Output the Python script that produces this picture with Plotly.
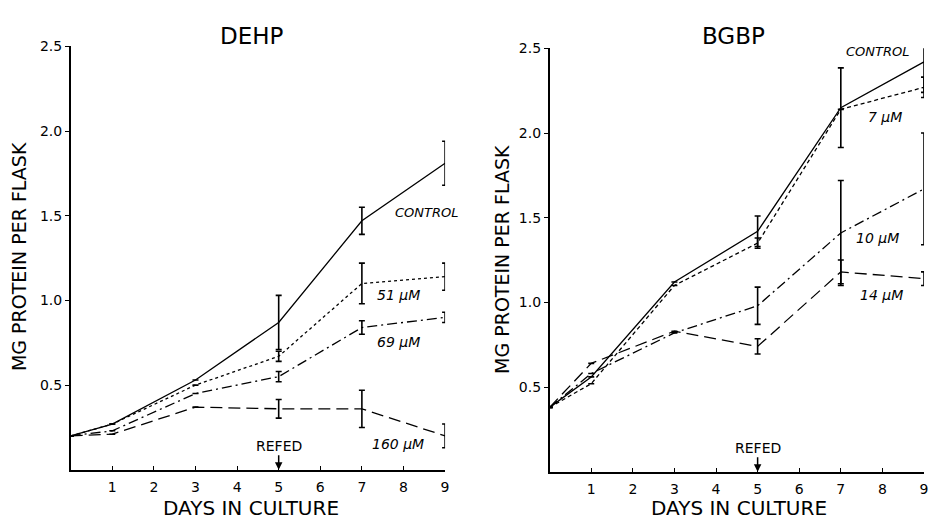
import plotly.graph_objects as go

days = [0, 1, 3, 5, 7, 9]

# DEHP panel
dehp_control = [0.20, 0.27, 0.53, 0.87, 1.47, 1.81]
dehp_control_err = [None, None, None, 0.16, 0.08, 0.13]
dehp_51 = [0.20, 0.27, 0.50, 0.67, 1.10, 1.14]
dehp_51_err = [None, None, None, 0.03, 0.12, 0.08]
dehp_69 = [0.20, 0.23, 0.45, 0.55, 0.84, 0.90]
dehp_69_err = [None, None, None, 0.03, 0.04, 0.03]
dehp_160 = [0.20, 0.21, 0.37, 0.36, 0.36, 0.20]
dehp_160_err = [None, None, None, 0.055, 0.11, 0.07]

# BGBP panel
bgbp_control = [0.38, 0.56, 1.12, 1.42, 2.15, 2.42]
bgbp_control_err = [None, None, None, 0.09, 0.235, 0.18]
bgbp_7 = [0.38, 0.52, 1.10, 1.35, 2.14, 2.27]
bgbp_7_err = [None, None, None, 0.03, None, 0.06]
bgbp_10 = [0.38, 0.58, 0.82, 0.98, 1.41, 1.67]
bgbp_10_err = [None, None, None, 0.11, 0.31, 0.33]
bgbp_14 = [0.38, 0.64, 0.83, 0.74, 1.18, 1.14]
bgbp_14_err = [None, None, None, 0.045, 0.07, 0.04]

y_ticks = [0.5, 1.0, 1.5, 2.0, 2.5]
y_tick_text = ["0.5", "1.0", "1.5", "2.0", "2.5"]
x_ticks = [1, 2, 3, 4, 5, 6, 7, 8, 9]

FONT = "DejaVu Sans, Liberation Sans, sans-serif"
W, H = 931, 519

def px_x(p):
    return p / W

def px_y(p):
    return 1 - p / H

fig = go.Figure()

def add_series(y, err, dash, xa, ya):
    fig.add_trace(go.Scatter(
        x=days, y=y, mode="lines",
        line=dict(color="black", width=1.3, dash=dash),
        error_y=dict(type="data", array=err, visible=True, color="black",
                     thickness=1.6, width=3),
        xaxis=xa, yaxis=ya, showlegend=False, cliponaxis=False,
    ))

add_series(dehp_control, dehp_control_err, "solid", "x", "y")
add_series(dehp_51, dehp_51_err, "3px,3px", "x", "y")
add_series(dehp_69, dehp_69_err, "10px,4px,2px,4px", "x", "y")
add_series(dehp_160, dehp_160_err, "12px,6px", "x", "y")

add_series(bgbp_control, bgbp_control_err, "solid", "x2", "y2")
add_series(bgbp_7, bgbp_7_err, "4px,3px", "x2", "y2")
add_series(bgbp_10, bgbp_10_err, "10px,4px,2px,4px", "x2", "y2")
add_series(bgbp_14, bgbp_14_err, "12px,6px", "x2", "y2")

xaxis_common = dict(range=[0, 9], tickvals=x_ticks, showline=True, linecolor="black",
                    linewidth=1.5, ticks="inside", ticklen=4, tickcolor="black",
                    showgrid=False, zeroline=False, ticklabelstandoff=4,
                    tickfont=dict(family=FONT, size=14, color="black"))
yaxis_common = dict(range=[0, 2.5], tickvals=y_ticks, ticktext=y_tick_text, showline=True,
                    linecolor="black", linewidth=1.5, ticks="outside", ticklen=4,
                    tickcolor="black", showgrid=False, zeroline=False,
                    tickfont=dict(family=FONT, size=14, color="black"))

fig.update_layout(
    width=W, height=H,
    margin=dict(l=0, r=0, t=0, b=0),
    paper_bgcolor="white", plot_bgcolor="white",
    xaxis=dict(domain=[px_x(71), px_x(447)], anchor="y", **xaxis_common),
    yaxis=dict(domain=[px_y(469), px_y(39)], anchor="x", **yaxis_common),
    xaxis2=dict(domain=[px_x(552), px_x(928)], anchor="y2", **xaxis_common),
    yaxis2=dict(domain=[px_y(471), px_y(41)], anchor="x2", **yaxis_common),
)

ann = []
def text(x, y, s, size, italic=False, angle=0):
    ann.append(dict(x=px_x(x), y=px_y(y), xref="paper", yref="paper", text=s,
                    showarrow=False, xanchor="center", yanchor="middle", textangle=angle,
                    font=dict(family=FONT, size=size, color="black",
                              style="italic" if italic else "normal")))

# titles
text(253, 28, "DEHP", 23)
text(737, 28, "BGBP", 23)
# axis titles
text(252, 508, "DAYS IN CULTURE", 20)
text(742, 508, "DAYS IN CULTURE", 20)
text(19, 252, "MG PROTEIN PER FLASK", 19, angle=-90)
text(504, 255, "MG PROTEIN PER FLASK", 19, angle=-90)

# series labels
text(428, 208, "CONTROL", 13, italic=True)
text(400, 292, "51 μM", 14, italic=True)
text(400, 339, "69 μM", 14, italic=True)
text(400, 443, "160 μM", 14, italic=True)

text(881, 44, "CONTROL", 13, italic=True)
text(889, 111, "7 μM", 14, italic=True)
text(881, 234, "10 μM", 14, italic=True)
text(885, 292, "14 μM", 14, italic=True)

# refed arrows
for xr, yr in (("x", "y"), ("x2", "y2")):
    ann.append(dict(x=5, y=0, xref=xr, yref=yr, text="REFED", showarrow=True,
                    arrowhead=2, arrowsize=1, arrowwidth=1.5, arrowcolor="black",
                    ax=0, ay=-24, font=dict(family=FONT, size=14, color="black")))

fig.update_layout(annotations=ann)
fig.write_html("out.html", config={"displayModeBar": False},
               post_script="document.body.style.margin='0';document.body.style.overflow='hidden';")
